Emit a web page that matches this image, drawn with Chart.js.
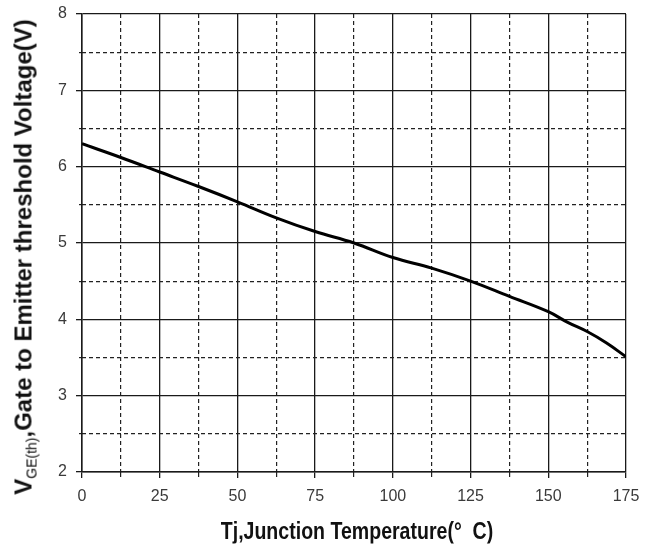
<!DOCTYPE html>
<html>
<head>
<meta charset="utf-8">
<script src="https://cdn.jsdelivr.net/npm/chart.js@4"></script>
<style>
  html, body { margin: 0; padding: 0; background: #fff; }
  #wrap { position: relative; width: 651px; height: 549px; }
  #c { display: block; }
  .ttl {
    position: absolute; white-space: nowrap;
    font-family: "Liberation Sans", Arial, sans-serif;
    font-weight: bold; color: #111; line-height: 1;
  }
  #ytitle {
    left: 25px; top: 257px; font-size: 24px;
    transform: translate(-50%, -50%) rotate(-90deg);
  }
  #ytitle sub { font-size: 14px; font-weight: normal; vertical-align: -5px; }
  #xtitle {
    left: 357px; top: 531px; font-size: 23px;
    transform: translate(-50%, -50%) scaleX(0.85);
  }
</style>
</head>
<body>
<div id="wrap">
  <canvas id="c" width="651" height="549"></canvas>
  <div id="ytitle" class="ttl">V<sub>GE(th)</sub>,Gate to Emitter threshold Voltage(V)</div>
  <div id="xtitle" class="ttl">Tj,Junction Temperature(°&nbsp;&nbsp;C)</div>
</div>
<script>
// Junction temperature (°C)
const temps = [0, 12.5, 25, 37.5, 50, 62.5, 75, 87.5, 100, 112.5, 125, 137.5, 150, 156.25, 162.5, 168.75, 175];
// Gate-emitter threshold voltage (V)
const vth = [6.30, 6.12, 5.93, 5.74, 5.54, 5.33, 5.15, 5.00, 4.81, 4.67, 4.50, 4.30, 4.10, 3.96, 3.84, 3.69, 3.51];
const xRange = [0, 175];
const yRange = [2, 8];

const tickFont = { family: '"Liberation Sans", Arial, sans-serif', size: 16 };
const gridColor = '#1a1a1a';

function noPad(s) { s.paddingTop = 0; s.paddingBottom = 0; s.paddingLeft = 0; s.paddingRight = 0; }

new Chart(document.getElementById('c'), {
  type: 'line',
  data: {
    datasets: [{
      data: temps.map((t, i) => ({ x: t, y: vth[i] })),
      borderColor: '#000',
      borderWidth: 3,
      pointRadius: 0,
      tension: 0.4,
      fill: false
    }]
  },
  options: {
    responsive: false,
    animation: false,
    layout: { padding: { top: 14, right: 25, bottom: 0, left: 0 } },
    plugins: { legend: { display: false }, tooltip: { enabled: false } },
    scales: {
      x: {
        type: 'linear', position: 'bottom', weight: 1,
        min: xRange[0], max: xRange[1],
        ticks: { stepSize: 25, font: tickFont, color: '#3a3a3a', padding: 9, maxRotation: 0 },
        grid: { color: gridColor, lineWidth: 1.3, tickLength: 6, tickColor: gridColor },
        border: { color: gridColor, width: 1.5 },
        afterFit: s => { s.height = 77; noPad(s); }
      },
      x2: {
        type: 'linear', position: 'bottom', weight: 0,
        min: xRange[0], max: xRange[1],
        ticks: { stepSize: 12.5, display: false },
        grid: { color: c => (c.tick && c.tick.value % 25 === 0) ? 'rgba(0,0,0,0)' : '#222',
                lineWidth: 1.2, tickLength: 5 },
        border: { display: false, dash: [4, 3] },
        afterFit: s => { s.height = 0; noPad(s); }
      },
      y: {
        type: 'linear', position: 'left', weight: 1,
        min: yRange[0], max: yRange[1],
        ticks: { stepSize: 1, font: tickFont, color: '#3a3a3a', padding: 9 },
        grid: { color: gridColor, lineWidth: 1.3, tickLength: 6, tickColor: gridColor },
        border: { color: gridColor, width: 1.5 },
        afterFit: s => { s.width = 82; noPad(s); }
      },
      y2: {
        type: 'linear', position: 'left', weight: 0,
        min: yRange[0], max: yRange[1],
        ticks: { stepSize: 0.5, display: false },
        grid: { color: c => (c.tick && c.tick.value % 1 === 0) ? 'rgba(0,0,0,0)' : '#222',
                lineWidth: 1.2, tickLength: 3 },
        border: { display: false, dash: [4, 3] },
        afterFit: s => { s.width = 0; noPad(s); }
      }
    }
  }
});
</script>
</body>
</html>
